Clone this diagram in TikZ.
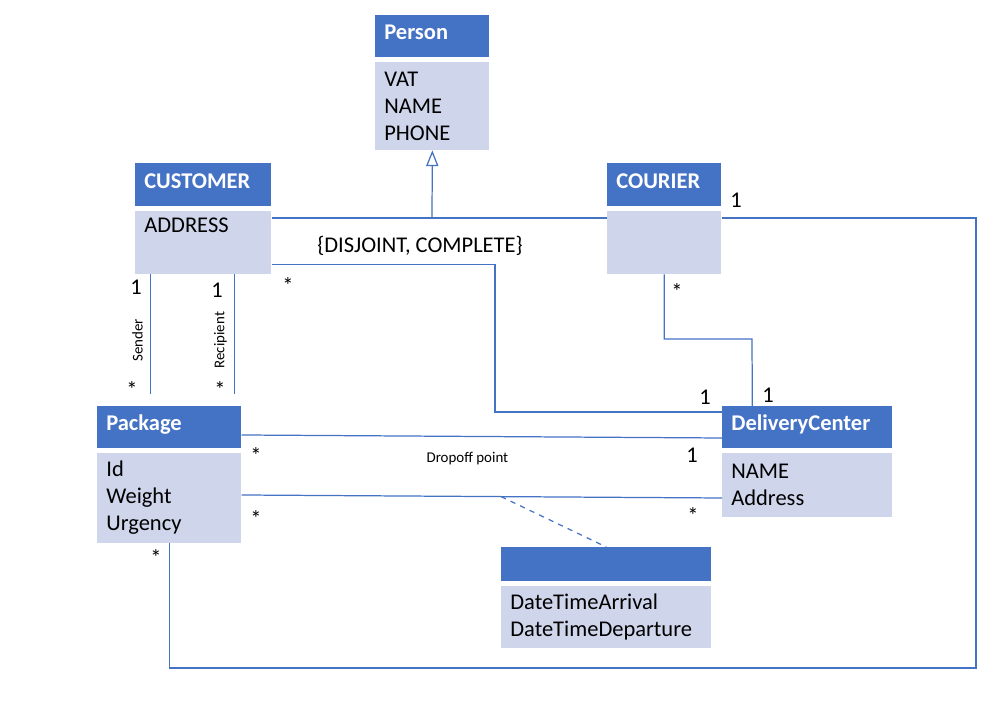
\documentclass[tikz,border=0pt]{standalone}
\usepackage{fontspec}
\setmainfont{Carlito}
\usepackage{tikz}
\usetikzlibrary{positioning, arrows.meta}
\definecolor{umlblue}{HTML}{4472C4}
\definecolor{umlfill}{HTML}{CFD5EA}

\begin{document}
\begin{tikzpicture}
	[x=0.02cm, y=-0.02cm,
	 hdr/.style={anchor=north west, fill=umlblue, text=white, align=left,
	             font=\fontsize{12.8}{15.4}\selectfont\bfseries, inner xsep=0.18cm, inner ysep=0pt,
	             text height=0.30cm, text depth=0.16cm},
	 bdy/.style={fill=umlfill, align=left, font=\fontsize{12.8}{15.4}\selectfont,
	             inner xsep=0.18cm, inner ysep=0pt},
	 mult/.style={font=\fontsize{12.8}{15.4}\selectfont, inner sep=1pt},
	 role/.style={font=\fontsize{8.5}{10}\selectfont, inner sep=4pt},
	 assoc/.style={draw=umlblue, line width=0.7pt},
	 gen/.style={assoc, -{Triangle[open, length=9pt, width=7pt]}},
	 link/.style={assoc, dashed},
	 node distance=0.08cm]
	\useasboundingbox (0,0) rectangle (1002,712);

	\node[hdr, text width=1.92cm, minimum height=0.84cm] (person) at (375,15) {Person};
	\node[bdy, text width=1.92cm, minimum height=1.76cm, below=of person] (personB) {VAT\\NAME\\PHONE};
	\node[hdr, text width=2.36cm, minimum height=0.86cm] (cust) at (135,163) {CUSTOMER};
	\node[bdy, text width=2.36cm, minimum height=1.26cm, below=of cust] (custB) {ADDRESS\\\strut};
	\node[hdr, text width=1.92cm, minimum height=0.86cm] (cour) at (607,163) {COURIER};
	\node[bdy, text width=1.92cm, minimum height=1.26cm, below=of cour] (courB) {};
	\node[hdr, text width=2.52cm, minimum height=0.84cm] (pkg) at (97,406) {Package};
	\node[bdy, text width=2.52cm, minimum height=1.80cm, below=of pkg] (pkgB) {Id\\Weight\\Urgency};
	\node[hdr, text width=3.04cm, minimum height=0.84cm] (dc) at (722,406) {DeliveryCenter};
	\node[bdy, text width=3.04cm, minimum height=1.28cm, below=of dc] (dcB) {NAME\\Address};
	\node[hdr, text width=3.84cm, minimum height=0.68cm] (stay) at (501,547) {};
	\node[bdy, text width=3.84cm, minimum height=1.24cm, below=of stay] (stayB) {DateTimeArrival\\DateTimeDeparture};

	% generalization
	\coordinate (gj) at (432,218);
	\draw[assoc] (custB.east |- gj) -- (courB.west |- gj);
	\draw[gen] (gj) -- (personB.south);
	\node[mult] (cons) at (420,246) {\{DISJOINT, COMPLETE\}};

	% sender / recipient
	\coordinate (snd) at ([xshift=-1.06cm]custB.south);
	\coordinate (rcp) at ([xshift=0.62cm]custB.south);
	\draw[assoc, shorten >=0.24cm] (snd) -- (snd |- pkg.north) node[role, midway, rotate=90, anchor=south] (sndr) {Sender};
	\draw[assoc, shorten >=0.24cm] (rcp) -- (rcp |- pkg.north) node[role, midway, rotate=90, anchor=south] (rcpt) {Recipient};

	\draw[assoc] ([yshift=0.2cm]custB.south east) -| (495,412) -- (dc.west |- 0,412);
	\draw[assoc] (pkg.east |- 0,435) -- node[role, pos=0.47, below=0.16cm] (drop) {Dropoff point} (dc.west |- 0,438);
	\draw[assoc] (pkgB.east |- 0,495) -- coordinate[pos=0.54] (ac) (dcB.west |- 0,498);
	\draw[link] (ac) -- (stay.north);
	\draw[assoc] (courB.south) |- (752,339) -- ([xshift=-1.1cm]dc.north);
	\draw[assoc] (courB.east |- gj) -| (976,668) -| (pkgB.south);

	% multiplicities
	\node[mult] (m1) at (136,287) {1};
	\node[mult] (m2) at (217,290) {1};
	\node[mult] (m3) at (132,390) {*};
	\node[mult] (m4) at (220,390) {*};
	\node[mult] (m5) at (288,286) {*};
	\node[mult] (m6) at (677,292) {*};
	\node[mult] (m7) at (736,200) {1};
	\node[mult] (m8) at (705,397) {1};
	\node[mult] (m9) at (768,395) {1};
	\node[mult] (m10) at (256,456) {*};
	\node[mult] (m11) at (692,455) {1};
	\node[mult] (m12) at (256,519) {*};
	\node[mult] (m13) at (693,516) {*};
	\node[mult] (m14) at (156,558) {*};
\end{tikzpicture}
\end{document}
